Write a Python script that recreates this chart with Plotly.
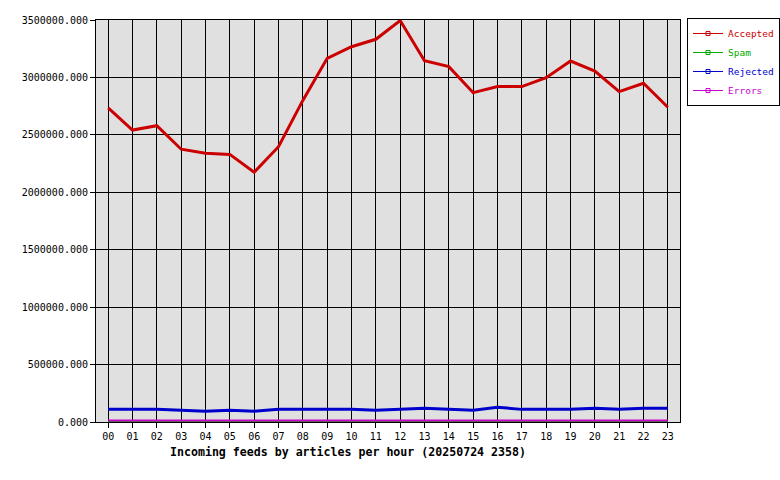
import plotly.graph_objects as go

hours = ["00","01","02","03","04","05","06","07","08","09","10","11",
         "12","13","14","15","16","17","18","19","20","21","22","23"]
accepted = [2734000, 2542000, 2580000, 2375000, 2339000, 2330000, 2174000, 2397000,
            2800000, 3166000, 3267000, 3332000, 3495000, 3146000, 3094000, 2867000,
            2920000, 2920000, 2998000, 3143000, 3056000, 2876000, 2949000, 2740000]
spam = [0]*24
rejected = [110000, 110000, 110000, 102000, 93000, 102000, 93000, 110000,
            110000, 110000, 110000, 102000, 110000, 119000, 110000, 102000,
            128000, 110000, 110000, 110000, 119000, 110000, 119000, 119000]
errors = [12000]*24

series = [("Accepted", accepted, "#cc0000", 3),
          ("Spam", spam, "#00aa00", 2),
          ("Rejected", rejected, "#0000cc", 3),
          ("Errors", errors, "#cc00cc", 2)]

fig = go.Figure()
for name, vals, col, w in series:
    fig.add_trace(go.Scatter(x=hours, y=vals, mode="lines", line=dict(color=col, width=w),
                             showlegend=False, hoverinfo="skip"))
for name, vals, col, w in series:
    fig.add_trace(go.Scatter(x=[None], y=[None], mode="lines+markers",
                             name=f"<span style='color:{col}'>{name}</span>",
                             line=dict(color=col, width=1),
                             marker=dict(symbol="square-open", size=4, color=col)))

font = "DejaVu Sans Mono"
fig.update_layout(
    width=780, height=480,
    margin=dict(l=96, r=100, t=20, b=58, autoexpand=False),
    paper_bgcolor="white", plot_bgcolor="#e0e0e0",
    font=dict(family=font, size=10, color="black"),
    legend=dict(x=1.012, y=1.005, xanchor="left", yanchor="top",
                bgcolor="white", bordercolor="black", borderwidth=1,
                font=dict(family=font, size=9.5), itemwidth=30,
                tracegroupgap=0),
    xaxis=dict(type="category", range=[-0.5, 23.5], showgrid=True, gridcolor="black",
               gridwidth=1, ticks="outside", ticklen=5, tickcolor="black",
               showline=True, linecolor="black", mirror=True, zeroline=False,
               tickfont=dict(family=font, size=10)),
    yaxis=dict(range=[0, 3500000], dtick=500000, tickformat=".3f", showgrid=True,
               gridcolor="black", gridwidth=1, ticks="outside", ticklen=5,
               tickcolor="black", showline=True, linecolor="black", mirror=True,
               zeroline=False, tickfont=dict(family=font, size=10)),
    annotations=[dict(text="<b>Incoming feeds by articles per hour (20250724 2358)</b>",
                      xref="paper", yref="paper", x=0.4315, y=-0.0746,
                      xanchor="center", yanchor="middle", showarrow=False,
                      font=dict(family=font, size=11.6, color="black"))],
)
fig.write_html("out.html", config={"displayModeBar": False},
               post_script="document.body.style.margin='0';document.body.style.overflow='hidden';")
